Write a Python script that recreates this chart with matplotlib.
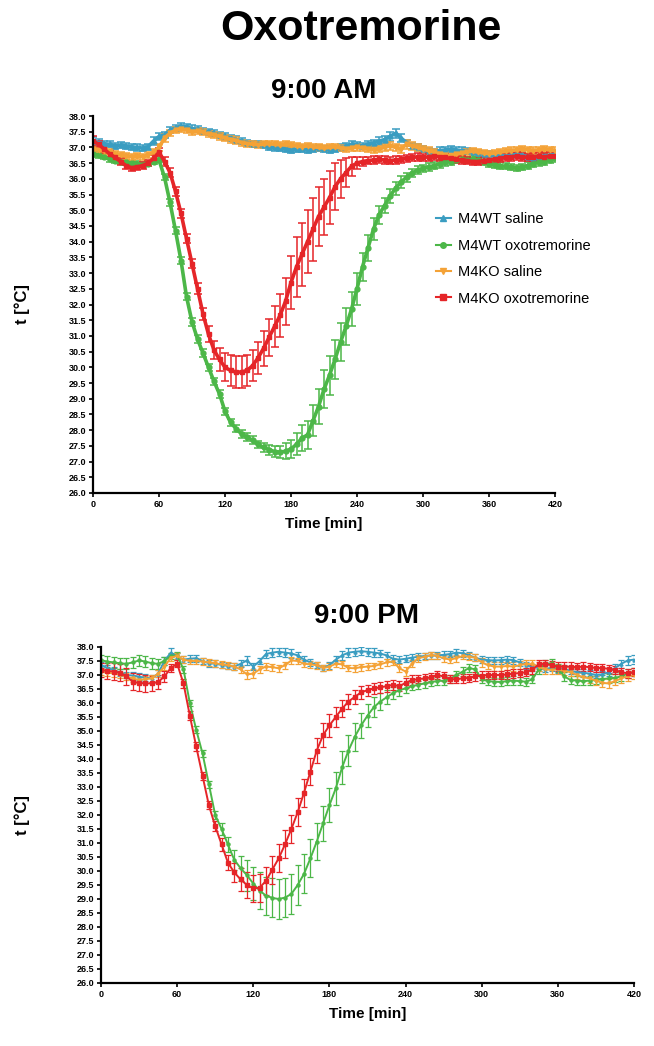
import numpy as np
import matplotlib
matplotlib.use("Agg")
from matplotlib import pyplot as plt
from matplotlib.lines import Line2D
from matplotlib.ticker import MultipleLocator, FormatStrFormatter

plt.rcParams['font.family'] = ['Liberation Sans', 'DejaVu Sans']

# time points, every 5 min
t = np.arange(0, 421, 5)

labels = ["M4WT saline", "M4WT oxotremorine", "M4KO saline", "M4KO oxotremorine"]
colors = ["#3a9dc1", "#4cb748", "#f4a236", "#e52528"]
markers = ["^", "o", "v", "s"]

# ---- 9:00 AM ----
am_wt_sal = [37.20, 37.15, 37.12, 37.10, 37.05, 37.08, 37.05, 37.02, 37.00, 36.98,
             37.02, 37.20, 37.35, 37.40, 37.55, 37.62, 37.68, 37.65, 37.60, 37.58,
             37.52, 37.50, 37.45, 37.40, 37.35, 37.30, 37.25, 37.20, 37.15, 37.12,
             37.10, 37.08, 37.02, 37.00, 36.98, 36.95, 36.92, 36.95, 36.95, 36.92,
             36.95, 36.98, 36.95, 36.92, 36.95, 37.00, 37.05, 37.10, 37.08, 37.05,
             37.10, 37.15, 37.20, 37.25, 37.35, 37.45, 37.30, 37.15, 37.05, 37.00,
             36.95, 36.88, 36.85, 36.90, 36.92, 36.95, 36.92, 36.90, 36.88, 36.85,
             36.82, 36.80, 36.78, 36.75, 36.75, 36.72, 36.75, 36.78, 36.75, 36.70,
             36.65, 36.68, 36.72, 36.75, 36.78]
am_wt_oxo = [36.80, 36.75, 36.70, 36.62, 36.58, 36.55, 36.52, 36.50, 36.48, 36.45,
             36.48, 36.55, 36.60, 36.05, 35.25, 34.35, 33.40, 32.25, 31.45, 30.90,
             30.45, 30.00, 29.55, 29.15, 28.60, 28.25, 28.05, 27.88, 27.78, 27.68,
             27.55, 27.45, 27.38, 27.32, 27.30, 27.33, 27.40, 27.55, 27.75, 27.85,
             28.30, 28.75, 29.30, 29.75, 30.25, 30.80, 31.30, 31.85, 32.50, 33.20,
             33.80, 34.40, 34.85, 35.15, 35.45, 35.70, 35.90, 36.05, 36.18, 36.28,
             36.33, 36.38, 36.42, 36.48, 36.52, 36.55, 36.60, 36.62, 36.60, 36.62,
             36.60, 36.55, 36.48, 36.45, 36.42, 36.40, 36.38, 36.35, 36.38, 36.42,
             36.48, 36.52, 36.55, 36.60, 36.65]
am_ko_sal = [36.95, 36.92, 36.88, 36.85, 36.80, 36.75, 36.72, 36.70, 36.72, 36.70,
             36.75, 36.85, 37.00, 37.30, 37.45, 37.55, 37.58, 37.55, 37.50, 37.52,
             37.48, 37.42, 37.40, 37.35, 37.30, 37.25, 37.22, 37.15, 37.12, 37.10,
             37.08, 37.10, 37.12, 37.10, 37.08, 37.10, 37.08, 37.05, 37.02, 37.05,
             37.02, 37.00, 36.98, 37.00, 37.02, 36.98, 36.95, 36.98, 37.00, 36.98,
             36.95, 36.92, 36.95, 37.00, 37.05, 37.00, 36.95, 37.10, 37.05, 37.00,
             36.95, 36.90, 36.85, 36.80, 36.75, 36.72, 36.78, 36.82, 36.85, 36.88,
             36.85, 36.82, 36.80, 36.82, 36.85, 36.88, 36.90, 36.92, 36.95, 36.92,
             36.90, 36.92, 36.95, 36.92, 36.90]
am_ko_oxo = [37.20, 37.10, 36.95, 36.80, 36.68, 36.55, 36.42, 36.35, 36.38, 36.42,
             36.50, 36.65, 36.85, 36.55, 36.20, 35.60, 34.90, 34.10, 33.30, 32.50,
             31.70, 31.05, 30.55, 30.25, 30.00, 29.90, 29.85, 29.85, 29.90, 30.05,
             30.30, 30.60, 30.95, 31.30, 31.65, 32.10, 32.70, 33.20, 33.60, 34.00,
             34.40, 34.80, 35.10, 35.40, 35.75, 36.00, 36.20, 36.40, 36.50, 36.55,
             36.58, 36.60, 36.62, 36.60, 36.58, 36.60, 36.62, 36.65, 36.68, 36.70,
             36.68, 36.70, 36.72, 36.70, 36.68, 36.65, 36.62, 36.60, 36.58, 36.55,
             36.55, 36.58, 36.60, 36.62, 36.65, 36.68, 36.70, 36.72, 36.70, 36.68,
             36.70, 36.72, 36.70, 36.72, 36.72]

am_wt_sal_err = [0.12, 0.12, 0.10, 0.10, 0.10, 0.10, 0.10, 0.10, 0.10, 0.10,
                 0.10, 0.12, 0.12, 0.10, 0.10, 0.10, 0.10, 0.10, 0.10, 0.10,
                 0.10, 0.10, 0.10, 0.10, 0.10, 0.10, 0.10, 0.10, 0.10, 0.10,
                 0.10, 0.10, 0.10, 0.10, 0.10, 0.10, 0.10, 0.10, 0.10, 0.10,
                 0.10, 0.10, 0.10, 0.10, 0.10, 0.10, 0.10, 0.10, 0.10, 0.10,
                 0.10, 0.10, 0.12, 0.12, 0.15, 0.15, 0.12, 0.10, 0.10, 0.10,
                 0.10, 0.10, 0.10, 0.10, 0.10, 0.10, 0.10, 0.10, 0.10, 0.10,
                 0.10, 0.10, 0.10, 0.10, 0.10, 0.10, 0.10, 0.10, 0.10, 0.10,
                 0.10, 0.10, 0.10, 0.10, 0.10]
am_wt_oxo_err = [0.10, 0.10, 0.08, 0.08, 0.08, 0.08, 0.08, 0.08, 0.08, 0.08,
                 0.08, 0.08, 0.08, 0.10, 0.12, 0.12, 0.12, 0.12, 0.12, 0.12,
                 0.12, 0.12, 0.12, 0.12, 0.12, 0.12, 0.12, 0.12, 0.12, 0.12,
                 0.12, 0.14, 0.16, 0.18, 0.20, 0.25, 0.30, 0.35, 0.40, 0.45,
                 0.50, 0.55, 0.60, 0.62, 0.62, 0.60, 0.58, 0.55, 0.50, 0.45,
                 0.40, 0.35, 0.30, 0.25, 0.22, 0.20, 0.18, 0.15, 0.12, 0.12,
                 0.12, 0.12, 0.12, 0.12, 0.10, 0.10, 0.10, 0.10, 0.10, 0.10,
                 0.10, 0.10, 0.10, 0.10, 0.10, 0.10, 0.10, 0.10, 0.10, 0.10,
                 0.10, 0.10, 0.10, 0.10, 0.10]
am_ko_sal_err = [0.10, 0.10, 0.10, 0.10, 0.10, 0.10, 0.10, 0.10, 0.10, 0.10,
                 0.10, 0.10, 0.12, 0.12, 0.10, 0.10, 0.10, 0.10, 0.10, 0.10,
                 0.10, 0.10, 0.10, 0.10, 0.10, 0.10, 0.10, 0.10, 0.10, 0.10,
                 0.10, 0.10, 0.10, 0.10, 0.10, 0.10, 0.10, 0.10, 0.10, 0.10,
                 0.10, 0.10, 0.10, 0.10, 0.10, 0.10, 0.10, 0.10, 0.10, 0.10,
                 0.10, 0.10, 0.10, 0.10, 0.12, 0.12, 0.12, 0.15, 0.12, 0.10,
                 0.10, 0.10, 0.10, 0.10, 0.10, 0.10, 0.10, 0.10, 0.10, 0.10,
                 0.10, 0.10, 0.10, 0.10, 0.10, 0.10, 0.10, 0.10, 0.10, 0.10,
                 0.10, 0.10, 0.10, 0.10, 0.10]
am_ko_oxo_err = [0.15, 0.12, 0.12, 0.10, 0.10, 0.10, 0.10, 0.10, 0.10, 0.10,
                 0.10, 0.10, 0.12, 0.15, 0.15, 0.15, 0.15, 0.15, 0.15, 0.18,
                 0.20, 0.25, 0.30, 0.38, 0.45, 0.50, 0.50, 0.50, 0.50, 0.50,
                 0.52, 0.55, 0.60, 0.65, 0.70, 0.75, 0.85, 0.95, 1.00, 1.00,
                 1.00, 0.95, 0.90, 0.85, 0.75, 0.60, 0.45, 0.30, 0.20, 0.15,
                 0.12, 0.12, 0.12, 0.12, 0.12, 0.12, 0.12, 0.12, 0.12, 0.12,
                 0.12, 0.12, 0.12, 0.12, 0.12, 0.12, 0.12, 0.12, 0.12, 0.12,
                 0.12, 0.12, 0.12, 0.12, 0.12, 0.12, 0.12, 0.12, 0.12, 0.12,
                 0.12, 0.12, 0.12, 0.12, 0.12]

# ---- 9:00 PM ----
pm_wt_sal = [37.36, 37.25, 37.18, 37.08, 37.00, 36.98, 36.94, 36.90, 36.88, 37.05,
             37.50, 37.80, 37.65, 37.55, 37.58, 37.60, 37.50, 37.42, 37.40, 37.36,
             37.32, 37.30, 37.40, 37.52, 37.30, 37.50, 37.75, 37.80, 37.83, 37.80,
             37.77, 37.70, 37.55, 37.45, 37.36, 37.25, 37.35, 37.55, 37.70, 37.80,
             37.83, 37.85, 37.83, 37.80, 37.77, 37.70, 37.58, 37.55, 37.58, 37.62,
             37.65, 37.68, 37.70, 37.70, 37.72, 37.75, 37.80, 37.78, 37.70, 37.62,
             37.55, 37.53, 37.52, 37.53, 37.55, 37.53, 37.45, 37.35, 37.28, 37.25,
             37.22, 37.25, 37.20, 37.22, 37.15, 37.10, 37.08, 37.05, 37.00, 37.02,
             37.10, 37.25, 37.40, 37.52, 37.55]
pm_wt_oxo = [37.53, 37.48, 37.45, 37.42, 37.40, 37.45, 37.52, 37.48, 37.42, 37.40,
             37.50, 37.68, 37.70, 37.20, 36.00, 35.05, 34.20, 33.10, 32.00, 31.50,
             30.95, 30.40, 30.10, 29.85, 29.55, 29.30, 29.12, 29.04, 29.00, 29.05,
             29.18, 29.50, 29.90, 30.45, 31.05, 31.70, 32.35, 32.95, 33.70, 34.30,
             34.80, 35.20, 35.55, 35.85, 36.05, 36.20, 36.35, 36.46, 36.52, 36.60,
             36.65, 36.70, 36.75, 36.78, 36.80, 36.85, 37.00, 37.12, 37.25, 37.20,
             36.85, 36.78, 36.76, 36.75, 36.78, 36.80, 36.78, 36.76, 36.85, 37.20,
             37.40, 37.42, 37.25, 36.95, 36.82, 36.80, 36.78, 36.80, 36.82, 36.85,
             36.88, 36.90, 36.95, 37.05, 37.10]
pm_ko_sal = [37.12, 37.08, 37.06, 37.00, 36.94, 36.88, 36.82, 36.85, 36.88, 37.05,
             37.30, 37.62, 37.68, 37.55, 37.50, 37.50, 37.48, 37.45, 37.42, 37.38,
             37.35, 37.30, 37.20, 37.02, 37.05, 37.20, 37.30, 37.28, 37.24, 37.35,
             37.52, 37.50, 37.40, 37.38, 37.35, 37.25, 37.30, 37.40, 37.38, 37.25,
             37.24, 37.28, 37.30, 37.32, 37.38, 37.45, 37.48, 37.25, 37.12, 37.40,
             37.60, 37.65, 37.70, 37.68, 37.60, 37.55, 37.60, 37.68, 37.65, 37.62,
             37.45, 37.35, 37.30, 37.30, 37.32, 37.30, 37.35, 37.40, 37.38, 37.30,
             37.20, 37.18, 37.20, 37.15, 37.10, 37.00, 36.92, 36.88, 36.80, 36.72,
             36.70, 36.78, 36.88, 36.95, 37.00]
pm_ko_oxo = [37.18, 37.15, 37.12, 37.08, 36.95, 36.76, 36.72, 36.70, 36.70, 36.75,
             36.95, 37.25, 37.40, 36.70, 35.55, 34.45, 33.40, 32.35, 31.60, 30.95,
             30.30, 29.95, 29.70, 29.50, 29.38, 29.40, 29.65, 30.05, 30.45, 30.95,
             31.50, 32.10, 32.80, 33.55, 34.30, 34.85, 35.20, 35.50, 35.80, 36.05,
             36.22, 36.38, 36.46, 36.52, 36.56, 36.60, 36.65, 36.60, 36.72, 36.82,
             36.85, 36.88, 36.92, 37.00, 36.95, 36.85, 36.85, 36.88, 36.90, 36.95,
             36.98, 37.00, 37.00, 37.00, 37.02, 37.05, 37.07, 37.10, 37.20, 37.38,
             37.40, 37.35, 37.30, 37.30, 37.30, 37.28, 37.30, 37.28, 37.25, 37.25,
             37.22, 37.18, 37.10, 37.06, 37.10]

pm_wt_sal_err = [0.12, 0.12, 0.12, 0.12, 0.12, 0.12, 0.12, 0.12, 0.12, 0.12,
                 0.15, 0.15, 0.12, 0.12, 0.12, 0.12, 0.12, 0.12, 0.12, 0.12,
                 0.12, 0.12, 0.12, 0.15, 0.12, 0.12, 0.15, 0.15, 0.15, 0.15,
                 0.15, 0.12, 0.12, 0.12, 0.12, 0.12, 0.12, 0.12, 0.15, 0.15,
                 0.15, 0.15, 0.15, 0.15, 0.12, 0.12, 0.12, 0.12, 0.12, 0.12,
                 0.12, 0.12, 0.12, 0.12, 0.12, 0.12, 0.12, 0.12, 0.12, 0.12,
                 0.12, 0.12, 0.12, 0.12, 0.12, 0.12, 0.12, 0.12, 0.12, 0.12,
                 0.12, 0.12, 0.12, 0.12, 0.12, 0.12, 0.12, 0.12, 0.12, 0.12,
                 0.15, 0.15, 0.15, 0.15, 0.15]
pm_wt_oxo_err = [0.20, 0.20, 0.20, 0.20, 0.20, 0.20, 0.20, 0.20, 0.20, 0.18,
                 0.15, 0.12, 0.12, 0.12, 0.12, 0.12, 0.12, 0.12, 0.15, 0.20,
                 0.28, 0.35, 0.45, 0.55, 0.60, 0.65, 0.68, 0.70, 0.70, 0.70,
                 0.70, 0.70, 0.70, 0.68, 0.65, 0.62, 0.60, 0.60, 0.58, 0.55,
                 0.50, 0.45, 0.40, 0.35, 0.30, 0.25, 0.22, 0.20, 0.18, 0.15,
                 0.15, 0.15, 0.15, 0.15, 0.15, 0.15, 0.15, 0.15, 0.15, 0.15,
                 0.15, 0.15, 0.15, 0.15, 0.15, 0.15, 0.15, 0.15, 0.15, 0.15,
                 0.15, 0.15, 0.15, 0.15, 0.15, 0.15, 0.15, 0.15, 0.15, 0.15,
                 0.15, 0.15, 0.15, 0.15, 0.15]
pm_ko_sal_err = [0.12, 0.12, 0.12, 0.12, 0.12, 0.12, 0.12, 0.12, 0.12, 0.12,
                 0.12, 0.12, 0.12, 0.12, 0.12, 0.12, 0.12, 0.12, 0.12, 0.12,
                 0.12, 0.12, 0.12, 0.15, 0.15, 0.12, 0.12, 0.12, 0.12, 0.12,
                 0.12, 0.12, 0.12, 0.12, 0.12, 0.12, 0.12, 0.12, 0.12, 0.12,
                 0.12, 0.12, 0.12, 0.12, 0.12, 0.12, 0.12, 0.15, 0.15, 0.12,
                 0.12, 0.12, 0.12, 0.12, 0.12, 0.12, 0.12, 0.12, 0.12, 0.12,
                 0.15, 0.15, 0.15, 0.15, 0.15, 0.15, 0.15, 0.15, 0.15, 0.15,
                 0.15, 0.15, 0.15, 0.15, 0.15, 0.15, 0.15, 0.15, 0.15, 0.15,
                 0.15, 0.15, 0.15, 0.15, 0.15]
pm_ko_oxo_err = [0.25, 0.28, 0.30, 0.30, 0.30, 0.30, 0.30, 0.30, 0.28, 0.25,
                 0.20, 0.15, 0.12, 0.15, 0.15, 0.15, 0.15, 0.15, 0.18, 0.22,
                 0.28, 0.35, 0.42, 0.45, 0.48, 0.50, 0.50, 0.50, 0.50, 0.50,
                 0.50, 0.50, 0.50, 0.48, 0.45, 0.42, 0.40, 0.35, 0.30, 0.28,
                 0.25, 0.22, 0.20, 0.20, 0.20, 0.20, 0.18, 0.18, 0.18, 0.18,
                 0.15, 0.15, 0.15, 0.15, 0.15, 0.15, 0.15, 0.15, 0.15, 0.15,
                 0.15, 0.15, 0.15, 0.15, 0.15, 0.15, 0.15, 0.15, 0.15, 0.15,
                 0.15, 0.15, 0.15, 0.15, 0.15, 0.15, 0.15, 0.15, 0.15, 0.15,
                 0.15, 0.15, 0.15, 0.15, 0.15]

am_data = [(am_wt_sal, am_wt_sal_err), (am_wt_oxo, am_wt_oxo_err),
           (am_ko_sal, am_ko_sal_err), (am_ko_oxo, am_ko_oxo_err)]
pm_data = [(pm_wt_sal, pm_wt_sal_err), (pm_wt_oxo, pm_wt_oxo_err),
           (pm_ko_sal, pm_ko_sal_err), (pm_ko_oxo, pm_ko_oxo_err)]


def draw_panel(ax, data, lw, ms, cap, elw):
  for (y, err), lab, col, mk in zip(data, labels, colors, markers):
    ax.errorbar(t, y, yerr=err, color=col, ecolor=col, marker=mk, ms=ms,
                mec=col, mfc=col, lw=lw, elinewidth=elw, capsize=cap,
                capthick=elw, label=lab)
  ax.set_xlim(0, 420)
  ax.set_ylim(26, 38)
  ax.xaxis.set_major_locator(MultipleLocator(60))
  ax.yaxis.set_major_locator(MultipleLocator(0.5))
  ax.yaxis.set_major_formatter(FormatStrFormatter("%.1f"))
  ax.spines["top"].set_visible(False)
  ax.spines["right"].set_visible(False)
  ax.spines["left"].set_linewidth(1.6)
  ax.spines["bottom"].set_linewidth(1.6)
  ax.tick_params(width=1.2, length=3, labelsize=6.5, pad=2)
  for lbl in ax.get_xticklabels() + ax.get_yticklabels():
    lbl.set_fontweight("bold")
  ax.set_xlabel("Time [min]", fontsize=11, fontweight="bold", labelpad=6)
  ax.set_ylabel("t [°C]", fontsize=12, fontweight="bold")


fig = plt.figure(figsize=(6.54, 10.46), dpi=100)

ax1 = fig.add_axes([93 / 654, 1 - 493 / 1046, 462 / 654, 377 / 1046])
draw_panel(ax1, am_data, 2.6, 3.5, 3, 1.1)
ax1.yaxis.set_label_coords(-0.136, 0.5)
handles = [Line2D([0], [0], color=c, marker=m, ms=4, lw=1.5) for c, m in zip(colors, markers)]
leg = ax1.legend(handles, labels, loc="upper left", bbox_to_anchor=(0.73, 0.76),
                 frameon=False, fontsize=10.5, handlelength=1.0, handletextpad=0.5,
                 labelspacing=0.85, borderaxespad=0)

ax2 = fig.add_axes([101 / 654, 1 - 983 / 1046, 533 / 654, 336 / 1046])
draw_panel(ax2, pm_data, 1.4, 2.2, 2.5, 0.9)
ax2.yaxis.set_label_coords(-0.133, 0.5)

fig.text(361 / 654, 1 - 29 / 1046, "Oxotremorine", fontsize=31, fontweight="bold",
         ha="center", va="center")
fig.text(324 / 654, 1 - 91 / 1046, "9:00 AM", fontsize=20, fontweight="bold",
         ha="center", va="center")
fig.text(367 / 654, 1 - 616 / 1046, "9:00 PM", fontsize=20, fontweight="bold",
         ha="center", va="center")

fig.savefig("out.png", dpi=100)
